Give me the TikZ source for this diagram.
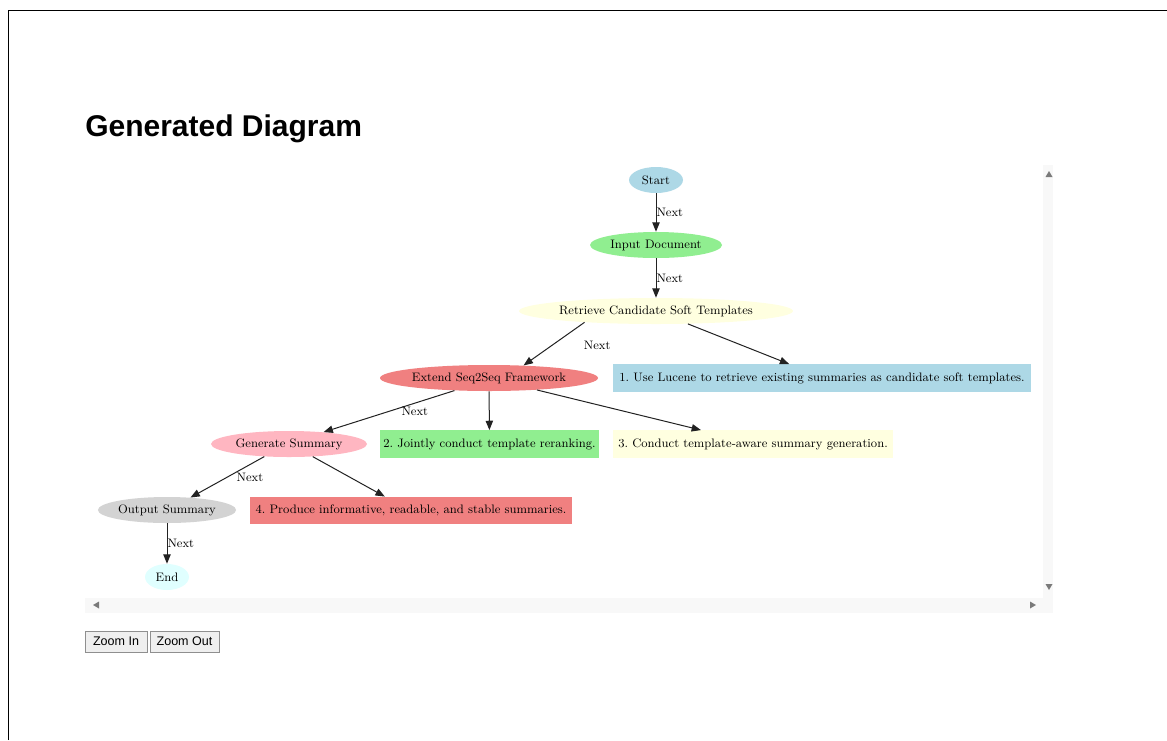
\documentclass[tikz,border=0pt]{standalone}
\usepackage{fontspec}
\newfontfamily\uisans{Liberation Sans}
\usetikzlibrary{shapes.geometric,arrows.meta,calc}
\definecolor{cLightBlue}{HTML}{ADD8E6}
\definecolor{cLightGreen}{HTML}{90EE90}
\definecolor{cLightYellow}{HTML}{FFFFE0}
\definecolor{cLightCoral}{HTML}{F08080}
\definecolor{cLightPink}{HTML}{FFB6C1}
\definecolor{cLightGray}{HTML}{D3D3D3}
\definecolor{cLightCyan}{HTML}{E0FFFF}
\definecolor{cTrack}{HTML}{F8F8F8}
\definecolor{cArrowGray}{HTML}{7A7A7A}
\definecolor{cBtn}{HTML}{EFEFEF}
\definecolor{cBtnBorder}{HTML}{8F8F8F}
\definecolor{cEdge}{HTML}{222222}
\tikzset{
  gtext/.style={font=\fontsize{9.2}{11}\selectfont\frenchspacing, text=black},
  ellnode/.style={ellipse, gtext, inner sep=0pt, minimum height=19.5pt},
  boxnode/.style={rectangle, gtext, inner sep=0pt, minimum height=20.5pt},
  edge/.style={draw=cEdge, line width=0.75pt, -{Triangle[length=7pt,width=5.5pt]}},
  lbl/.style={gtext, inner sep=0pt, fill=none},
  btn/.style={rectangle, draw=cBtnBorder, fill=cBtn, line width=0.6pt, inner sep=0pt,
    minimum height=15.75pt, font=\uisans\fontsize{9.4}{11}\selectfont},
  scrollarrow/.style={fill=cArrowGray, draw=none}
}
\begin{document}
\begin{tikzpicture}[x=0.75pt,y=-0.75pt]
\useasboundingbox (0,0) rectangle (1167,740);
\fill[white] (0,0) rectangle (1167,740);
% page frame
\draw[line width=1.2pt] (8.5,740) -- (8.5,10.5) -- (1167,10.5);
% title
\node[anchor=base west, inner sep=0pt, font=\uisans\bfseries\fontsize{22.5}{26}\selectfont] (title) at (85,136) {Generated Diagram};
% scrollbars
\fill[cTrack] (1043,165) rectangle (1053,598);
\fill[cTrack] (85,598) rectangle (1053,613);
\fill[scrollarrow] (1045.5,177) -- (1052.5,177) -- (1049,171) -- cycle;
\fill[scrollarrow] (1045.5,584) -- (1052.5,584) -- (1049,590) -- cycle;
\fill[scrollarrow] (99,601.5) -- (99,608.5) -- (93,605) -- cycle;
\fill[scrollarrow] (1030,601.5) -- (1030,608.5) -- (1036,605) -- cycle;
% graph nodes
\node[ellnode, fill=cLightBlue, minimum width=40.5pt] (start) at (656,180) {Start};
\node[ellnode, fill=cLightGreen, minimum width=99pt] (input) at (656,245) {Input Document};
\node[ellnode, fill=cLightYellow, minimum width=200pt] (retrieve) at (656,311) {Retrieve Candidate Soft Templates};
\node[ellnode, fill=cLightCoral, minimum width=163.5pt] (extend) at (489,378) {Extend Seq2Seq Framework};
\node[boxnode, fill=cLightBlue, minimum width=313.5pt] (b1) at (822,378) {1. Use Lucene to retrieve existing summaries as candidate soft templates.};
\node[ellnode, fill=cLightPink, minimum width=117pt] (generate) at (289,444) {Generate Summary};
\node[boxnode, fill=cLightGreen, minimum width=164pt] (b2) at (489.5,444) {2. Jointly conduct template reranking.};
\node[boxnode, fill=cLightYellow, minimum width=210pt] (b3) at (753,444) {3. Conduct template-aware summary generation.};
\node[ellnode, fill=cLightGray, minimum width=103.5pt] (output) at (167,510) {Output Summary};
\node[boxnode, fill=cLightCoral, minimum width=241.5pt] (b4) at (411,510.5) {4. Produce informative, readable, and stable summaries.};
\node[ellnode, fill=cLightCyan, minimum width=33pt] (end) at (167,577) {End};
% edges
\draw[edge] (start) -- node[lbl, anchor=west] (l1) {Next} (input);
\draw[edge] (input) -- node[lbl, anchor=west] (l2) {Next} (retrieve);
\draw[edge] (retrieve.189) -- node[lbl, anchor=west, xshift=22pt, yshift=-1pt] (l3) {Next} (extend.20);
\draw[edge] (retrieve.338.5) -- (b1.157);
\draw[edge] (extend.200.5) -- node[lbl, anchor=west, xshift=9pt] (l4) {Next} (generate.19);
\draw[edge] (extend) -- (b2);
\draw[edge] (extend.346.3) -- (b3.165.2);
\draw[edge] (generate.207.3) -- node[lbl, anchor=west, xshift=6.5pt] (l5) {Next} (output.28.1);
\draw[edge] (generate.332.7) -- (b4.152.6);
\draw[edge] (output) -- node[lbl, anchor=west] (l6) {Next} (end);
% buttons
\node[btn, minimum width=46.5pt] (zin) at (116,641.5) {Zoom In};
\node[btn, minimum width=51.75pt] (zout) at (184.5,641.5) {Zoom Out};
\end{tikzpicture}
\end{document}
